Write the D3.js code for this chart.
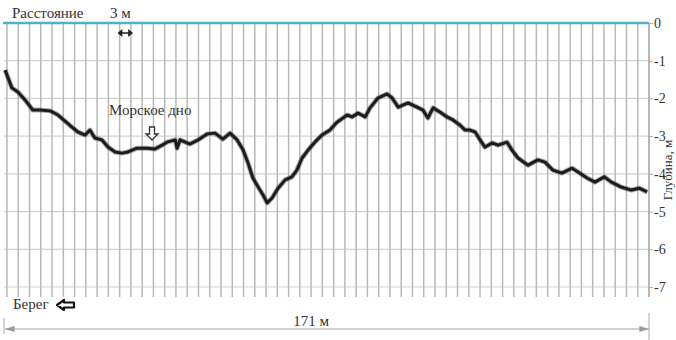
<!doctype html>
<html lang="ru">
<head>
  <meta charset="utf-8">
  <title>Профиль дна</title>
  <script src="https://cdn.jsdelivr.net/npm/d3@7"></script>
  <style>
    body { margin: 0; background: #fff; }
    svg text { font-family: "Times New Roman", "Liberation Serif", "DejaVu Serif", serif; fill: #333; }
  </style>
</head>
<body>
<svg id="chart" width="676" height="340"></svg>
<script>
  'use strict';

  // distance along the profile, m
  var distance = [-0.5, 1.3, 2.9, 4.8, 6.9, 8.8, 11.5, 13.6, 16.0, 17.3, 18.9, 20.8, 22.1, 23.4,
    25.3, 26.9, 28.8, 30.6, 32.2, 34.6, 37.3, 39.4, 41.3, 42.6, 44.8, 45.3, 46.1, 48.7,
    50.9, 53.3, 55.4, 57.5, 59.4, 61.3, 62.9, 64.2, 65.5, 66.9, 68.2, 69.3, 70.6, 72.2,
    74.1, 75.9, 77.2, 78.6, 80.2, 82.0, 83.9, 86.0, 87.9, 90.6, 91.9, 93.5, 95.4, 96.7,
    98.8, 101.2, 102.6, 104.2, 106.8, 109.2, 110.8, 112.1, 113.5, 115.3, 117.2, 118.8,
    120.7, 122.0, 123.3, 124.7, 126.0, 127.3, 129.2, 130.8, 133.2, 134.5, 136.1, 138.8,
    141.4, 143.3, 145.4, 147.8, 150.5, 152.1, 154.5, 156.6, 159.1, 161.0, 163.6, 166.3,
    168.4, 170.5];
  // depth, m
  var depth = [-1.25, -1.72, -1.83, -2.04, -2.31, -2.31, -2.33, -2.44, -2.65, -2.76, -2.89, -2.97, -2.84, -3.05,
    -3.10, -3.29, -3.42, -3.45, -3.42, -3.32, -3.32, -3.34, -3.24, -3.16, -3.10, -3.32, -3.10, -3.21,
    -3.10, -2.94, -2.92, -3.08, -2.92, -3.10, -3.37, -3.71, -4.11, -4.35, -4.56, -4.77, -4.64, -4.38,
    -4.16, -4.08, -3.90, -3.58, -3.37, -3.16, -2.97, -2.84, -2.63, -2.44, -2.49, -2.39, -2.49, -2.25,
    -1.99, -1.88, -1.99, -2.23, -2.12, -2.23, -2.31, -2.52, -2.25, -2.36, -2.49, -2.57,
    -2.71, -2.84, -2.84, -2.89, -3.10, -3.29, -3.18, -3.24, -3.16, -3.37, -3.58, -3.77,
    -3.63, -3.69, -3.90, -3.98, -3.85, -3.95, -4.11, -4.22, -4.08, -4.22, -4.35, -4.43,
    -4.38, -4.48];

  var depthTicks = [0, -1, -2, -3, -4, -5, -6, -7];
  var totalLength = 171;
  var gridStep = 3;

  var svg = d3.select("#chart");

  var x = d3.scaleLinear().domain([0, totalLength]).range([7, 649]);
  var y = d3.scaleLinear().domain([0, -7]).range([23, 287]);

  // horizontal grid
  svg.append("g").selectAll("line")
    .data(depthTicks.slice(1))
    .enter().append("line")
    .attr("x1", x(0) - 3).attr("x2", x(totalLength))
    .attr("y1", function(d){ return y(d); }).attr("y2", function(d){ return y(d); })
    .attr("stroke", "#d2d2d2").attr("stroke-width", 1.2);

  // vertical grid every 3 m
  svg.append("g").selectAll("line")
    .data(d3.range(0, totalLength + 1, gridStep))
    .enter().append("line")
    .attr("x1", function(d){ return x(d); }).attr("x2", function(d){ return x(d); })
    .attr("y1", y(0)).attr("y2", y(-7) + 10)
    .attr("stroke", "#b9b9b9").attr("stroke-width", 1.5);

  // water surface
  svg.append("line")
    .attr("x1", x(0) - 4).attr("x2", x(totalLength))
    .attr("y1", y(0)).attr("y2", y(0))
    .attr("stroke", "#4fb0cc").attr("stroke-width", 2.5);

  // right depth axis
  var axis = d3.axisRight(y)
    .tickValues(depthTicks)
    .tickSize(4)
    .tickFormat(function(d){ return d === 0 ? "0" : "-" + Math.abs(d); });

  var ag = svg.append("g")
    .attr("transform", "translate(" + x(totalLength) + ",0)")
    .call(axis);
  ag.attr("font-family", null);
  ag.select(".domain").attr("stroke", "#aaa").attr("stroke-width", 1.2)
    .attr("d", "M0," + y(0) + "V" + (y(-7) + 10));
  ag.selectAll(".tick line").attr("stroke", "#aaa");
  ag.selectAll(".tick text")
    .attr("x", 5)
    .style("font-size", "14px")
    .attr("fill", "#444");

  svg.append("text")
    .attr("transform", "translate(672,170) rotate(-90)")
    .attr("text-anchor", "middle")
    .style("font-size", "13px")
    .text("Глубина, м");

  // seabed profile
  var profile = d3.zip(distance, depth);
  var line = d3.line()
    .x(function(d){ return x(d[0]); })
    .y(function(d){ return y(d[1]); });

  svg.append("path").datum(profile).attr("d", line)
    .attr("fill", "none").attr("stroke", "#555").attr("stroke-opacity", 0.5)
    .attr("stroke-width", 5).attr("stroke-linejoin", "round");
  svg.append("path").datum(profile).attr("d", line)
    .attr("fill", "none").attr("stroke", "#1c1c1c")
    .attr("stroke-width", 3).attr("stroke-linejoin", "round");

  // marker for the long dimension line
  svg.append("defs").append("marker").attr("id", "ahg").attr("viewBox", "0 0 10 10")
    .attr("refX", 10).attr("refY", 5).attr("markerWidth", 6).attr("markerHeight", 6)
    .attr("orient", "auto-start-reverse")
    .append("path").attr("d", "M0,2L10,5L0,8Z").attr("fill", "#999");

  // scale label
  svg.append("text").attr("x", 12).attr("y", 18).style("font-size", "15px").text("Расстояние");
  svg.append("text").attr("x", 110).attr("y", 18).style("font-size", "15px").text("3 м");
  var a0 = x(30) - 1, a1 = x(33) + 1;
  svg.append("path")
    .attr("d", "M" + a0 + ",33H" + a1 +
      "M" + a0 + ",33l3,-2.5v5z" +
      "M" + a1 + ",33l-3,-2.5v5z")
    .attr("stroke", "#222").attr("stroke-width", 1.4).attr("fill", "#222");

  // seabed label
  svg.append("text").attr("x", 109).attr("y", 115).style("font-size", "15px").text("Морское дно");
  svg.append("path")
    .attr("transform", "translate(152,127)")
    .attr("d", "M-2.5,0H2.5V7H6L0,13L-6,7H-2.5Z")
    .attr("fill", "#fff").attr("stroke", "#333").attr("stroke-width", 1.3);

  // shore label
  svg.append("text").attr("x", 13).attr("y", 309).style("font-size", "15px").text("Берег");
  svg.append("path")
    .attr("transform", "translate(57,305)")
    .attr("d", "M0,0L7,-5V-2.5H17V2.5H7V5Z")
    .attr("fill", "#fff").attr("stroke", "#111").attr("stroke-width", 2.2)
    .attr("stroke-linejoin", "round");

  // total length dimension
  svg.append("line")
    .attr("x1", x(0) - 2).attr("x2", x(totalLength)).attr("y1", 329).attr("y2", 329)
    .attr("stroke", "#c4c4c4").attr("stroke-width", 1.6)
    .attr("marker-start", "url(#ahg)").attr("marker-end", "url(#ahg)");
  svg.append("line")
    .attr("x1", x(0) - 3).attr("x2", x(0) - 3).attr("y1", 318).attr("y2", 334)
    .attr("stroke", "#aaa").attr("stroke-width", 1);
  svg.append("line")
    .attr("x1", x(totalLength)).attr("x2", x(totalLength)).attr("y1", 313).attr("y2", 340)
    .attr("stroke", "#aaa").attr("stroke-width", 1);
  svg.append("text").attr("x", 311).attr("y", 326).attr("text-anchor", "middle")
    .style("font-size", "15px").text("171 м");
</script>
</body>
</html>
